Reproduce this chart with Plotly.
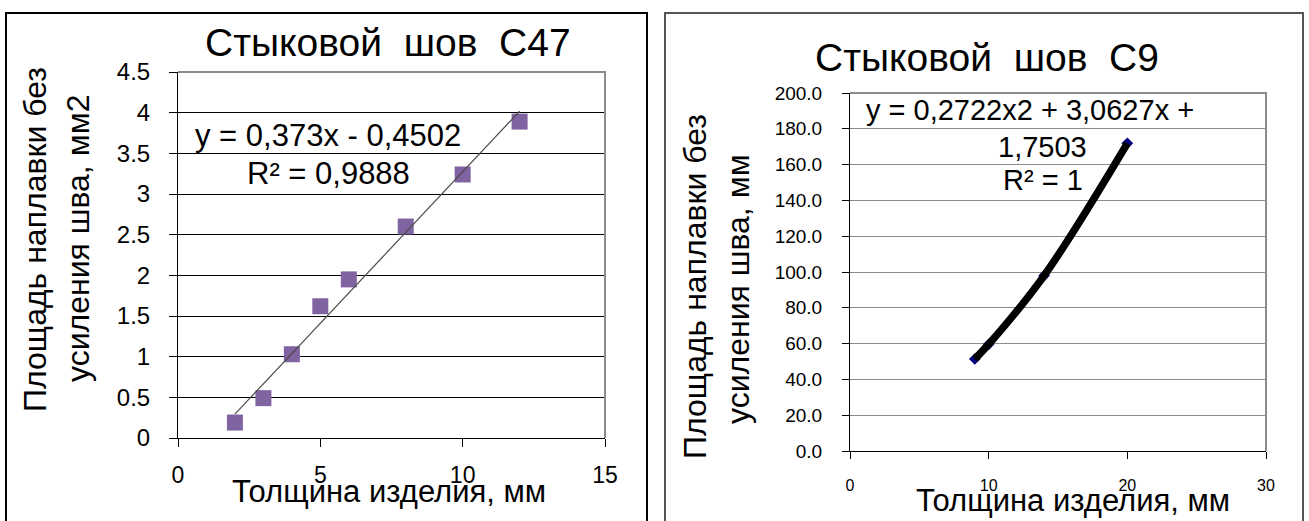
import numpy as np
import plotly.graph_objects as go

W, H = 1309, 521
FONT = "Arial, 'Liberation Sans', sans-serif"

# ---- data: left chart (С47) ----
c47_thickness = [2, 3, 4, 5, 6, 8, 10, 12]
c47_area = [0.19, 0.49, 1.03, 1.62, 1.95, 2.60, 3.24, 3.89]
c47_title = "Стыковой\u00a0 шов\u00a0 С47"
c47_eq = "y = 0,373x - 0,4502"
c47_r2 = "R² = 0,9888"
c47_yticks = [0, 0.5, 1, 1.5, 2, 2.5, 3, 3.5, 4, 4.5]
c47_yticktext = ["0", "0.5", "1", "1.5", "2", "2.5", "3", "3.5", "4", "4.5"]
c47_xticks = [0, 5, 10, 15]

# ---- data: right chart (С9) ----
c9_thickness = [9, 10, 14, 20]
c9_area = [51.4, 59.6, 98.0, 171.9]
c9_title = "Стыковой\u00a0 шов\u00a0 С9"
c9_eq1 = "y = 0,2722x2 + 3,0627x +"
c9_eq2 = "1,7503"
c9_r2 = "R² = 1"
c9_yticks = [0, 20, 40, 60, 80, 100, 120, 140, 160, 180, 200]
c9_yticktext = [f"{v:.1f}" for v in c9_yticks]
c9_xticks = [0, 10, 20, 30]

xlabel = "Толщина изделия, мм"
ylabel1 = "Площадь наплавки без"
ylabel2_left = "усиления шва, мм2"
ylabel2_right = "усиления шва, мм"


def px(x):
    return x / W


def py(y):
    return 1 - y / H


fig = go.Figure()

# left: markers then linear trendline (least squares from data)
fig.add_trace(go.Scatter(
    x=c47_thickness, y=c47_area, mode="markers",
    marker=dict(symbol="square", size=16, color="#8064A2"),
    xaxis="x", yaxis="y", showlegend=False))
k, b = np.polyfit(c47_thickness, c47_area, 1)
tx = [min(c47_thickness), max(c47_thickness)]
fig.add_trace(go.Scatter(
    x=tx, y=[k * t + b for t in tx], mode="lines",
    line=dict(color="#4a4a4a", width=1.2),
    xaxis="x", yaxis="y", showlegend=False))

# right: markers and smooth trend curve through data
fig.add_trace(go.Scatter(
    x=c9_thickness, y=c9_area, mode="markers",
    marker=dict(symbol="diamond", size=9, color="#000080"),
    xaxis="x2", yaxis="y2", showlegend=False))
fig.add_trace(go.Scatter(
    x=c9_thickness, y=c9_area, mode="lines",
    line=dict(color="black", width=7.5, shape="spline", smoothing=1.0),
    xaxis="x2", yaxis="y2", showlegend=False))

axis_common = dict(showline=True, linecolor="black", linewidth=1,
                   ticks="outside", tickcolor="black", zeroline=False,
                   fixedrange=True, automargin=False)

fig.update_layout(
    width=W, height=H, autosize=False,
    margin=dict(l=0, r=0, t=0, b=0, pad=0),
    paper_bgcolor="white", plot_bgcolor="white",
    font=dict(family=FONT, color="black"),
    showlegend=False,
    xaxis=dict(domain=[px(178), px(605)], range=[0, 15], tickvals=c47_xticks,
               ticklen=8, showgrid=False, tickfont=dict(size=23),
               ticklabelstandoff=8, anchor="y", **axis_common),
    yaxis=dict(domain=[py(438), py(72)], range=[0, 4.5], tickvals=c47_yticks,
               ticktext=c47_yticktext, ticklen=8, showgrid=True,
               gridcolor="black", gridwidth=1, tickfont=dict(size=24),
               ticklabelstandoff=14, anchor="x", **axis_common),
    xaxis2=dict(domain=[px(850), px(1266)], range=[0, 30], tickvals=c9_xticks,
                ticklen=7, showgrid=False, tickfont=dict(size=16),
                ticklabelstandoff=13, anchor="y2", **axis_common),
    yaxis2=dict(domain=[py(451), py(93)], range=[0, 200], tickvals=c9_yticks,
                ticktext=c9_yticktext, ticklen=7, showgrid=True,
                gridcolor="#8c8c8c", gridwidth=1, tickfont=dict(size=19),
                ticklabelstandoff=16, anchor="x2", **axis_common),
)

shapes = []
# outer panel frames (open at the bottom, cut by the image edge)
shapes.append(dict(type="path", xref="paper", yref="paper",
                   path=f"M {px(6)},{py(530)} L {px(6)},{py(13)} L {px(647)},{py(13)} L {px(647)},{py(530)}",
                   line=dict(color="black", width=2)))
shapes.append(dict(type="path", xref="paper", yref="paper",
                   path=f"M {px(665)},{py(530)} L {px(665)},{py(13)} L {px(1303)},{py(13)} L {px(1303)},{py(530)}",
                   line=dict(color="#555555", width=2)))
# plot-area top/right gray borders
for xr, yr in (("x domain", "y domain"), ("x2 domain", "y2 domain")):
    shapes.append(dict(type="path", xref=xr, yref=yr, path="M 0,1 L 1,1 L 1,0",
                       line=dict(color="#8c8c8c", width=2), layer="above"))
fig.update_layout(shapes=shapes)

ann = []


def add_text(text, x, y, size, angle=0):
    ann.append(dict(text=text, x=px(x), y=py(y), xref="paper", yref="paper",
                    showarrow=False, xanchor="center", yanchor="middle",
                    textangle=angle, font=dict(size=size, family=FONT, color="black")))


# titles
add_text(c47_title, 388, 43, 39)
add_text(c9_title, 987, 57, 39)
# equations
add_text(c47_eq, 328, 136, 31)
add_text(c47_r2, 328, 173, 31)
add_text(c9_eq1, 1030, 110, 29)
add_text(c9_eq2, 1042, 147, 29)
add_text(c9_r2, 1043, 180, 29)
# axis titles
add_text(xlabel, 389, 491, 31)
add_text(xlabel, 1073, 500, 31)
add_text(ylabel1, 35, 240, 32, -90)
add_text(ylabel2_left, 78, 239, 32, -90)
add_text(ylabel1, 695, 287, 32, -90)
add_text(ylabel2_right, 738, 289, 32, -90)
fig.update_layout(annotations=ann)

fig.write_html(
    "out.html",
    config={"responsive": False, "displayModeBar": False},
    post_script="document.body.style.margin='0';document.body.style.overflow='hidden';",
)
